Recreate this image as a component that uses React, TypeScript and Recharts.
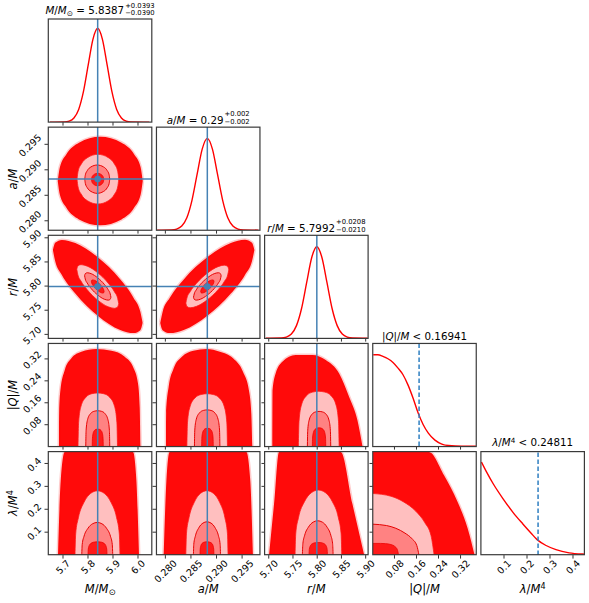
import React from 'react';
import { ComposedChart, Area, Line, XAxis, YAxis, ReferenceLine, ReferenceDot } from 'recharts';

const FONT = '"DejaVu Sans", "Liberation Sans", sans-serif';

// ---------- axes ----------
const M_DOMAIN: [number, number] = [5.64, 6.054];
const A_DOMAIN: [number, number] = [0.27817, 0.2984];
const R_DOMAIN: [number, number] = [5.6923, 5.9058];
const Q_DOMAIN: [number, number] = [0.002, 0.378];
const L_DOMAIN: [number, number] = [0, 0.45];

const M_TICKS = [5.7, 5.8, 5.9, 6.0];
const M_TICK_LABELS = ['5.7', '5.8', '5.9', '6.0'];
const A_TICKS = [0.28, 0.285, 0.29, 0.295];
const A_TICK_LABELS = ['0.280', '0.285', '0.290', '0.295'];
const R_TICKS = [5.7, 5.75, 5.8, 5.85, 5.9];
const R_TICK_LABELS = ['5.70', '5.75', '5.80', '5.85', '5.90'];
const Q_TICKS = [0.08, 0.16, 0.24, 0.32];
const Q_TICK_LABELS = ['0.08', '0.16', '0.24', '0.32'];
const L_TICKS = [0.1, 0.2, 0.3, 0.4];
const L_TICK_LABELS = ['0.1', '0.2', '0.3', '0.4'];

const TRUTHS: (number | null)[] = [5.8387, 0.2882, 5.7992, null, null];
const LIMITS: (number | null)[] = [null, null, null, 0.16941, 0.24811];

// ---------- 1D marginals (x, height fraction) ----------
const DIAG_M = [[5.648, 0], [5.7057, 0.002], [5.7247, 0.01], [5.7437, 0.04], [5.7627, 0.123], [5.7817, 0.295], [5.8007, 0.552], [5.8197, 0.803], [5.8387, 0.91], [5.8577, 0.803], [5.8767, 0.552], [5.8957, 0.295], [5.9147, 0.123], [5.9337, 0.04], [5.9527, 0.01], [5.9717, 0.002], [6.045, 0]];
const DIAG_A = [[0.2784, 0], [0.2812, 0.002], [0.2822, 0.01], [0.2832, 0.039], [0.2842, 0.12], [0.2852, 0.289], [0.2862, 0.54], [0.2872, 0.785], [0.2882, 0.89], [0.2892, 0.785], [0.2902, 0.54], [0.2912, 0.289], [0.2922, 0.12], [0.2932, 0.039], [0.2942, 0.01], [0.2952, 0.002], [0.2982, 0]];
const DIAG_R = [[5.694, 0], [5.7257, 0.002], [5.7362, 0.01], [5.7467, 0.039], [5.7572, 0.121], [5.7677, 0.287], [5.7782, 0.537], [5.7887, 0.782], [5.7992, 0.886], [5.8097, 0.782], [5.8202, 0.537], [5.8307, 0.287], [5.8412, 0.121], [5.8517, 0.039], [5.8622, 0.01], [5.8727, 0.002], [5.904, 0]];
const DIAG_Q = [[0.003, 0.886], [0.0196, 0.886], [0.038, 0.87], [0.0563, 0.847], [0.0746, 0.811], [0.093, 0.756], [0.111, 0.692], [0.129, 0.594], [0.148, 0.462], [0.166, 0.32], [0.184, 0.21], [0.203, 0.126], [0.227, 0.058], [0.252, 0.02], [0.276, 0.006], [0.325, 0], [0.376, 0]];
const DIAG_L = [[0.002, 0.903], [0.0245, 0.805], [0.053, 0.692], [0.096, 0.546], [0.139, 0.415], [0.182, 0.302], [0.218, 0.212], [0.244, 0.15], [0.283, 0.093], [0.326, 0.053], [0.383, 0.022], [0.441, 0.01], [0.45, 0.009]];

// ---------- 2D regions: [x, low, high] or [x, high] (low = 0) ----------
const MA_CLOUD = [[5.679, 0.2878, 0.2878], [5.6875, 0.28509, 0.29051], [5.713, 0.28258, 0.29302], [5.764, 0.28027, 0.29533], [5.849, 0.2791, 0.2965], [5.934, 0.28027, 0.29533], [5.985, 0.28258, 0.29302], [6.0105, 0.28509, 0.29051], [6.019, 0.2878, 0.2878]];
const MA_PINK = [[5.756, 0.28816, 0.28816], [5.7602, 0.28664, 0.28968], [5.7727, 0.28523, 0.29109], [5.7978, 0.28393, 0.29239], [5.8395, 0.28328, 0.29304], [5.8813, 0.28393, 0.29239], [5.9063, 0.28523, 0.29109], [5.9188, 0.28664, 0.28968], [5.923, 0.28816, 0.28816]];
const MA_MID = [[5.787, 0.28816, 0.28816], [5.7895, 0.28729, 0.28903], [5.797, 0.28649, 0.28983], [5.812, 0.28575, 0.29057], [5.837, 0.28538, 0.29094], [5.862, 0.28575, 0.29057], [5.877, 0.28649, 0.28983], [5.8845, 0.28729, 0.28903], [5.887, 0.28816, 0.28816]];
const MA_INNER = [[5.814, 0.28809, 0.28809], [5.8152, 0.28771, 0.28847], [5.8189, 0.28736, 0.28882], [5.8263, 0.28703, 0.28915], [5.8385, 0.28687, 0.28931], [5.8508, 0.28703, 0.28915], [5.8581, 0.28736, 0.28882], [5.8618, 0.28771, 0.28847], [5.863, 0.28809, 0.28809]];

const MR_CLOUD = [[5.6596, 5.8745, 5.8745], [5.6686, 5.8518, 5.8896], [5.6955, 5.8231, 5.8957], [5.7493, 5.7845, 5.8893], [5.839, 5.7387, 5.8597], [5.9287, 5.7092, 5.814], [5.9825, 5.7027, 5.7753], [6.0094, 5.7088, 5.7466], [6.0184, 5.7239, 5.7239]];
const MR_PINK = [[5.7552, 5.8344, 5.8344], [5.7593, 5.8239, 5.8415], [5.7719, 5.8104, 5.8444], [5.7971, 5.7923, 5.8413], [5.839, 5.7709, 5.8275], [5.8809, 5.7571, 5.8061], [5.9061, 5.754, 5.788], [5.9187, 5.7569, 5.7745], [5.9229, 5.764, 5.764]];
const MR_MID = [[5.7864, 5.8213, 5.8213], [5.789, 5.8147, 5.8257], [5.7969, 5.8063, 5.8276], [5.8127, 5.7949, 5.8257], [5.839, 5.7815, 5.817], [5.8653, 5.7728, 5.8036], [5.8811, 5.7709, 5.7922], [5.889, 5.7727, 5.7837], [5.8917, 5.7771, 5.7771]];
const MR_INNER = [[5.8137, 5.8099, 5.8099], [5.8149, 5.8066, 5.812], [5.8187, 5.8026, 5.8128], [5.8263, 5.7971, 5.8119], [5.839, 5.7907, 5.8078], [5.8517, 5.7866, 5.8014], [5.8593, 5.7856, 5.7958], [5.8631, 5.7864, 5.7918], [5.8644, 5.7886, 5.7886]];

const AR_CLOUD = [[0.279, 5.7238, 5.7238], [0.27946, 5.7087, 5.7465], [0.28084, 5.7026, 5.7752], [0.2836, 5.7091, 5.8139], [0.2882, 5.7387, 5.8597], [0.2928, 5.7845, 5.8893], [0.29556, 5.8232, 5.8958], [0.29694, 5.8519, 5.8897], [0.2974, 5.8746, 5.8746]];
const AR_PINK = [[0.284, 5.7648, 5.7648], [0.28421, 5.7579, 5.7751], [0.28484, 5.7551, 5.7883], [0.2861, 5.7581, 5.8059], [0.2882, 5.7716, 5.8268], [0.2903, 5.7925, 5.8403], [0.29156, 5.8101, 5.8433], [0.29219, 5.8233, 5.8405], [0.2924, 5.8336, 5.8336]];
const AR_MID = [[0.2855, 5.7771, 5.7771], [0.28564, 5.7727, 5.7837], [0.28604, 5.7709, 5.7922], [0.28685, 5.7728, 5.8036], [0.2882, 5.7815, 5.817], [0.28955, 5.7949, 5.8257], [0.29036, 5.8063, 5.8276], [0.29077, 5.8147, 5.8257], [0.2909, 5.8213, 5.8213]];
const AR_INNER = [[0.2869, 5.7886, 5.7886], [0.28697, 5.7864, 5.7918], [0.28716, 5.7856, 5.7958], [0.28755, 5.7866, 5.8014], [0.2882, 5.7907, 5.8078], [0.28885, 5.7971, 5.8119], [0.28924, 5.8026, 5.8128], [0.28944, 5.8066, 5.812], [0.2895, 5.8099, 5.8099]];

const MQ_CLOUD = [[5.684, 0], [5.6845, 0.12], [5.6896, 0.2055], [5.7068, 0.279], [5.7336, 0.322], [5.7736, 0.346], [5.8336, 0.356], [5.8936, 0.35], [5.9468, 0.328], [5.98, 0.291], [6.0, 0.23], [6.0068, 0.144], [6.0096, 0]];
const MQ_PINK = [[5.76, 0], [5.7624, 0.0882], [5.7719, 0.147], [5.7916, 0.1803], [5.8153, 0.1931], [5.839, 0.196], [5.8627, 0.1931], [5.8864, 0.1803], [5.9062, 0.147], [5.9156, 0.0882], [5.918, 0]];
const MQ_MID = [[5.791, 0], [5.7924, 0.059], [5.7982, 0.0983], [5.8102, 0.1205], [5.8246, 0.129], [5.839, 0.131], [5.8534, 0.129], [5.8678, 0.1205], [5.8798, 0.0983], [5.8856, 0.059], [5.887, 0]];
const MQ_INNER = [[5.817, 0], [5.8177, 0.0288], [5.8203, 0.048], [5.8258, 0.0589], [5.8324, 0.063], [5.839, 0.064], [5.8456, 0.063], [5.8522, 0.0589], [5.8577, 0.048], [5.8603, 0.0288], [5.861, 0]];

const AQ_CLOUD = [[0.28014, 0], [0.28015, 0.12], [0.28064, 0.2177], [0.28161, 0.285], [0.28324, 0.328], [0.28548, 0.35], [0.28808, 0.356], [0.29065, 0.346], [0.29323, 0.322], [0.29517, 0.273], [0.29633, 0.2055], [0.2968, 0.12], [0.29699, 0]];
const AQ_PINK = [[0.2842, 0], [0.28432, 0.0869], [0.2848, 0.1448], [0.28579, 0.1776], [0.28698, 0.1901], [0.28817, 0.193], [0.28936, 0.1901], [0.29055, 0.1776], [0.29154, 0.1448], [0.29202, 0.0869], [0.29214, 0]];
const AQ_MID = [[0.28568, 0], [0.28575, 0.0603], [0.28605, 0.1005], [0.28668, 0.1233], [0.28742, 0.132], [0.28817, 0.134], [0.28892, 0.132], [0.28966, 0.1233], [0.29029, 0.1005], [0.29059, 0.0603], [0.29066, 0]];
const AQ_INNER = [[0.2871, 0], [0.28713, 0.0302], [0.28727, 0.0503], [0.28755, 0.0616], [0.28789, 0.066], [0.28823, 0.067], [0.28857, 0.066], [0.28891, 0.0616], [0.28919, 0.0503], [0.28933, 0.0302], [0.28936, 0]];

const RQ_CLOUD = [[5.7074, 0], [5.7078, 0.2055], [5.7142, 0.2667], [5.7281, 0.3094], [5.7555, 0.334], [5.7901, 0.334], [5.8176, 0.3156], [5.8453, 0.2667], [5.8659, 0.181], [5.8831, 0.0954], [5.8934, 0]];
const RQ_PINK = [[5.7611, 0], [5.7624, 0.0909], [5.7674, 0.1514], [5.7779, 0.1857], [5.7906, 0.1989], [5.8032, 0.2019], [5.8158, 0.1989], [5.8285, 0.1857], [5.839, 0.1514], [5.844, 0.0909], [5.8453, 0]];
const RQ_MID = [[5.7797, 0], [5.7804, 0.0578], [5.7833, 0.0964], [5.7893, 0.1182], [5.7966, 0.1266], [5.8038, 0.1285], [5.811, 0.1266], [5.8183, 0.1182], [5.8243, 0.0964], [5.8272, 0.0578], [5.8279, 0]];
const RQ_INNER = [[5.79, 0], [5.7904, 0.0309], [5.7921, 0.0515], [5.7955, 0.0631], [5.7997, 0.0676], [5.8038, 0.0686], [5.8079, 0.0676], [5.8121, 0.0631], [5.8155, 0.0515], [5.8172, 0.0309], [5.8176, 0]];

const ML_CLOUD = [[5.68, 0], [5.6908, 0.324], [5.7068, 0.45], [5.98, 0.45], [5.9936, 0.324], [6.004, 0]];
const ML_PINK = [[5.748, 0], [5.7507, 0.0926], [5.7615, 0.1628], [5.784, 0.2302], [5.811, 0.2695], [5.838, 0.2807], [5.865, 0.2695], [5.892, 0.2302], [5.9145, 0.1628], [5.9253, 0.0926], [5.928, 0]];
const ML_MID = [[5.775, 0], [5.7769, 0.047], [5.7843, 0.0827], [5.7998, 0.1169], [5.8184, 0.1368], [5.837, 0.1425], [5.8556, 0.1368], [5.8742, 0.1169], [5.8897, 0.0827], [5.8971, 0.047], [5.899, 0]];
const ML_INNER = [[5.8, 0], [5.8011, 0.0261], [5.8057, 0.0435], [5.8152, 0.0534], [5.8266, 0.0571], [5.838, 0.058], [5.8494, 0.0571], [5.8608, 0.0534], [5.8703, 0.0435], [5.8749, 0.0261], [5.876, 0]];

const AL_CLOUD = [[0.27967, 0], [0.2802, 0.324], [0.28083, 0.45], [0.29583, 0.45], [0.2966, 0.324], [0.29711, 0]];
const AL_PINK = [[0.284, 0], [0.28412, 0.0927], [0.28462, 0.163], [0.28565, 0.2304], [0.28689, 0.2698], [0.28813, 0.281], [0.28937, 0.2698], [0.29061, 0.2304], [0.29164, 0.163], [0.29214, 0.0927], [0.29226, 0]];
const AL_MID = [[0.28548, 0], [0.28556, 0.048], [0.28588, 0.0843], [0.28654, 0.1192], [0.28734, 0.1396], [0.28813, 0.1454], [0.28893, 0.1396], [0.28972, 0.1192], [0.29038, 0.0843], [0.2907, 0.048], [0.29078, 0]];
const AL_INNER = [[0.28677, 0], [0.28681, 0.0261], [0.28697, 0.0435], [0.28731, 0.0534], [0.28772, 0.0571], [0.28813, 0.058], [0.28854, 0.0571], [0.28895, 0.0534], [0.28929, 0.0435], [0.28945, 0.0261], [0.28949, 0]];

const RL_CLOUD = [[5.7006, 0], [5.7109, 0.2227], [5.7212, 0.45], [5.8486, 0.45], [5.8727, 0.2227], [5.8969, 0]];
const RL_PINK = [[5.7543, 0], [5.7557, 0.0937], [5.7615, 0.1646], [5.7736, 0.2327], [5.788, 0.2724], [5.8025, 0.2838], [5.817, 0.2724], [5.8314, 0.2327], [5.8435, 0.1646], [5.8493, 0.0937], [5.8507, 0]];
const RL_MID = [[5.7694, 0], [5.7704, 0.0494], [5.7742, 0.0869], [5.7821, 0.1228], [5.7916, 0.1438], [5.8011, 0.1498], [5.8106, 0.1438], [5.8201, 0.1228], [5.828, 0.0869], [5.8318, 0.0494], [5.8328, 0]];
const RL_INNER = [[5.7831, 0], [5.7837, 0.0248], [5.786, 0.0413], [5.7907, 0.0506], [5.7964, 0.0542], [5.8021, 0.055], [5.8078, 0.0542], [5.8135, 0.0506], [5.8182, 0.0413], [5.8205, 0.0248], [5.8211, 0]];

const QL_CLOUD = [[0, 0.45], [0.205, 0.45], [0.26, 0.349], [0.309, 0.233], [0.346, 0.116], [0.371, 0]];
const QL_PINK = [[0, 0.269], [0.067, 0.257], [0.112, 0.233], [0.157, 0.192], [0.19, 0.142], [0.213, 0.084], [0.224, 0]];
const QL_MID = [[0, 0.135], [0.051, 0.129], [0.085, 0.117], [0.118, 0.096], [0.144, 0.071], [0.161, 0.042], [0.169, 0]];
const QL_INNER = [[0, 0.051], [0.029, 0.051], [0.048, 0.05], [0.067, 0.046], [0.081, 0.038], [0.09, 0.025], [0.095, 0]];

// ---------- assembly ----------
const PARAMS = [
  { domain: M_DOMAIN, ticks: M_TICKS, labels: M_TICK_LABELS },
  { domain: A_DOMAIN, ticks: A_TICKS, labels: A_TICK_LABELS },
  { domain: R_DOMAIN, ticks: R_TICKS, labels: R_TICK_LABELS },
  { domain: Q_DOMAIN, ticks: Q_TICKS, labels: Q_TICK_LABELS },
  { domain: L_DOMAIN, ticks: L_TICKS, labels: L_TICK_LABELS },
];
const DIAGS = [DIAG_M, DIAG_A, DIAG_R, DIAG_Q, DIAG_L];
const REGIONS: Record<string, number[][][]> = {
  '10': [MA_CLOUD, MA_PINK, MA_MID, MA_INNER],
  '20': [MR_CLOUD, MR_PINK, MR_MID, MR_INNER],
  '21': [AR_CLOUD, AR_PINK, AR_MID, AR_INNER],
  '30': [MQ_CLOUD, MQ_PINK, MQ_MID, MQ_INNER],
  '31': [AQ_CLOUD, AQ_PINK, AQ_MID, AQ_INNER],
  '32': [RQ_CLOUD, RQ_PINK, RQ_MID, RQ_INNER],
  '40': [ML_CLOUD, ML_PINK, ML_MID, ML_INNER],
  '41': [AL_CLOUD, AL_PINK, AL_MID, AL_INNER],
  '42': [RL_CLOUD, RL_PINK, RL_MID, RL_INNER],
  '43': [QL_CLOUD, QL_PINK, QL_MID, QL_INNER],
};

const toRange = (rows: number[][]) =>
  rows.map((r) => (r.length === 3 ? { x: r[0], y: [r[1], r[2]] } : { x: r[0], y: [0, r[1]] }));
const toLine = (rows: number[][]) => rows.map((r) => ({ x: r[0], y: r[1] }));

// ---------- layout & style ----------
const LEFT0 = 48.3;
const TOP0 = 19;
const STEP = 108.15;
const PW = 103.5;
const PH = 103.1;
const TICK_FS = 9.5;
const TICK_COLOR = '#333';
const TRUTH_COLOR = '#4682b4';
const LIMIT_COLOR = '#2f7fc1';
const REGION_STYLES = [
  { fill: '#ff0a0a', stroke: '#ff0000', strokeWidth: 3, strokeOpacity: 0.2 },
  { fill: '#ffbfbf', stroke: '#ff1a1a', strokeWidth: 0.8, strokeOpacity: 1 },
  { fill: '#ff8282', stroke: '#e60000', strokeWidth: 1, strokeOpacity: 1 },
  { fill: '#ff1a1a', stroke: '#ee0000', strokeWidth: 0.8, strokeOpacity: 1 },
];

const textWidth = (s: string, fs: number) => {
  let w = 0;
  for (const c of s) w += c === '.' ? 0.318 : 0.636;
  return w * fs;
};
const nearest = (arr: number[], v: number) => {
  let best = 0;
  arr.forEach((t, i) => {
    if (Math.abs(t - v) < Math.abs(arr[best] - v)) best = i;
  });
  return best;
};

const EmptyTick = () => <g />;

function makeXTick(ticks: number[], labels: string[]) {
  return (props: any) => {
    const { x, y, payload } = props;
    const label = labels[nearest(ticks, payload.value)];
    const d = (textWidth(label, TICK_FS) + 0.73 * TICK_FS) / (2 * Math.SQRT2);
    const cx = x;
    const cy = y + 0.5 + d;
    return (
      <text x={cx} y={cy} transform={`rotate(-45 ${cx} ${cy})`} textAnchor="middle" dominantBaseline="central"
        fontSize={TICK_FS} fontFamily={FONT} fill="#000">{label}</text>
    );
  };
}
function makeYTick(ticks: number[], labels: string[]) {
  return (props: any) => {
    const { x, y, payload } = props;
    const label = labels[nearest(ticks, payload.value)];
    const d = (textWidth(label, TICK_FS) + 0.73 * TICK_FS) / (2 * Math.SQRT2);
    const cx = x - 2.5 - d;
    const cy = y + 1;
    return (
      <text x={cx} y={cy} transform={`rotate(-45 ${cx} ${cy})`} textAnchor="middle" dominantBaseline="central"
        fontSize={TICK_FS} fontFamily={FONT} fill="#000">{label}</text>
    );
  };
}

function Panel({ row, col }: { row: number; col: number }) {
  const diag = row === col;
  const px = PARAMS[col];
  const py = PARAMS[row];
  const left = LEFT0 + col * STEP;
  const top = TOP0 + row * STEP;
  const yw = diag ? 0 : col === 0 ? 48 : 5;
  const xh = row === 4 ? 48 : 5;
  const regions = REGIONS[`${row}${col}`];
  return (
    <div style={{ position: 'absolute', left: left - yw, top }}>
      <ComposedChart width={PW + yw} height={PH + xh} margin={{ top: 0, right: 0, bottom: 0, left: 0 }}>
        <XAxis type="number" dataKey="x" domain={px.domain} ticks={px.ticks} allowDataOverflow interval={0}
          axisLine={false} tickSize={3.5} tickMargin={0} tickLine={{ stroke: TICK_COLOR, strokeWidth: 1 }}
          height={xh} tick={row === 4 ? makeXTick(px.ticks, px.labels) : EmptyTick} />
        {diag ? (
          <YAxis type="number" hide domain={[0, 1]} allowDataOverflow />
        ) : (
          <YAxis type="number" domain={py.domain} ticks={py.ticks} allowDataOverflow interval={0}
            axisLine={false} tickSize={3.5} tickMargin={0} tickLine={{ stroke: TICK_COLOR, strokeWidth: 1 }}
            width={yw} tick={col === 0 ? makeYTick(py.ticks, py.labels) : EmptyTick} />
        )}
        {!diag && regions.map((reg, i) => (
          <Area key={i} data={toRange(reg)} dataKey="y" type="monotone" fill={REGION_STYLES[i].fill} fillOpacity={1}
            stroke={REGION_STYLES[i].stroke} strokeWidth={REGION_STYLES[i].strokeWidth}
            strokeOpacity={REGION_STYLES[i].strokeOpacity} dot={false} activeDot={false} isAnimationActive={false} />
        ))}
        {diag && (
          <Line data={toLine(DIAGS[col])} dataKey="y" type="monotone" stroke="#ff0000" strokeWidth={1.4}
            dot={false} activeDot={false} isAnimationActive={false} />
        )}
        {TRUTHS[col] != null && <ReferenceLine x={TRUTHS[col] as number} stroke={TRUTH_COLOR} strokeWidth={1.5} />}
        {!diag && TRUTHS[row] != null && <ReferenceLine y={TRUTHS[row] as number} stroke={TRUTH_COLOR} strokeWidth={1.5} />}
        {!diag && TRUTHS[row] != null && TRUTHS[col] != null && (
          <ReferenceDot x={TRUTHS[col] as number} y={TRUTHS[row] as number} r={3.3} fill={TRUTH_COLOR} stroke="none" />
        )}
        {diag && LIMITS[col] != null && (
          <ReferenceLine x={LIMITS[col] as number} stroke={LIMIT_COLOR} strokeWidth={1.5} strokeDasharray="4.5 2.5" />
        )}
      </ComposedChart>
    </div>
  );
}

const it = (s: string) => <span style={{ fontStyle: 'italic' }}>{s}</span>;
const SYMBOLS = [
  <>{it('M')}/{it('M')}<span style={{ fontSize: '0.72em', position: 'relative', top: '0.3em' }}>⊙</span></>,
  <>{it('a')}/{it('M')}</>,
  <>{it('r')}/{it('M')}</>,
  <>|{it('Q')}|/{it('M')}</>,
  <>{it('λ')}/{it('M')}<span style={{ fontSize: '0.7em', position: 'relative', top: '-0.45em' }}>4</span></>,
];
const TITLE_MAIN = [' = 5.8387', ' = 0.29', ' = 5.7992', ' < 0.16941', ' < 0.24811'];
const TITLE_ERR: ([string, string] | null)[] = [['+0.0393', '−0.0390'], ['+0.002', '−0.002'], ['+0.0208', '−0.0210'], null, null];

function Title({ i }: { i: number }) {
  const left = LEFT0 + i * STEP;
  const top = TOP0 + i * STEP;
  const err = TITLE_ERR[i];
  return (
    <div style={{ position: 'absolute', left: left - 60, width: PW + 120, top: top - 22, height: 20.5, display: 'flex',
      justifyContent: 'center', alignItems: 'flex-end', fontFamily: FONT, fontSize: 10.3, lineHeight: '12px',
      whiteSpace: 'pre', color: '#000' }}>
      <span>{SYMBOLS[i]}{TITLE_MAIN[i]}</span>
      {err && (
        <span style={{ display: 'inline-flex', flexDirection: 'column', fontSize: 6.8, lineHeight: '7.6px', marginLeft: 1, marginBottom: -0.5 }}>
          <span>{err[0]}</span>
          <span>{err[1]}</span>
        </span>
      )}
    </div>
  );
}

export default function App() {
  const panels: { row: number; col: number }[] = [];
  for (let r = 0; r < 5; r++) for (let c = 0; c <= r; c++) panels.push({ row: r, col: c });
  return (
    <div style={{ position: 'absolute', left: 0, top: 0, width: 589, height: 603, background: '#fff', overflow: 'hidden', fontFamily: FONT }}>
      <style>{'.recharts-surface{overflow:visible}.recharts-wrapper{overflow:visible}'}</style>
      {panels.map((p) => <Panel key={`${p.row}-${p.col}`} row={p.row} col={p.col} />)}
      {[0, 1, 2, 3, 4].map((i) => <Title key={`t${i}`} i={i} />)}
      {[0, 1, 2, 3, 4].map((i) => (
        <div key={`xl${i}`} style={{ position: 'absolute', left: LEFT0 + i * STEP + PW / 2 - 50, width: 100, top: 580, height: 18,
          textAlign: 'center', fontSize: 11.5, lineHeight: '18px', whiteSpace: 'nowrap', color: '#000' }}>{SYMBOLS[i]}</div>
      ))}
      {[1, 2, 3, 4].map((i) => (
        <div key={`yl${i}`} style={{ position: 'absolute', left: 12.5 - 50, width: 100, top: TOP0 + i * STEP + PH / 2 - 9, height: 18,
          textAlign: 'center', fontSize: 11.5, lineHeight: '18px', whiteSpace: 'nowrap', color: '#000', transform: 'rotate(-90deg)' }}>{SYMBOLS[i]}</div>
      ))}
      <svg width={589} height={603} style={{ position: 'absolute', left: 0, top: 0, pointerEvents: 'none' }}>
        {panels.map((p) => (
          <rect key={`f${p.row}-${p.col}`} x={LEFT0 + p.col * STEP} y={TOP0 + p.row * STEP} width={PW} height={PH}
            fill="none" stroke="#3a3a3a" strokeWidth={1.2} />
        ))}
      </svg>
    </div>
  );
}
